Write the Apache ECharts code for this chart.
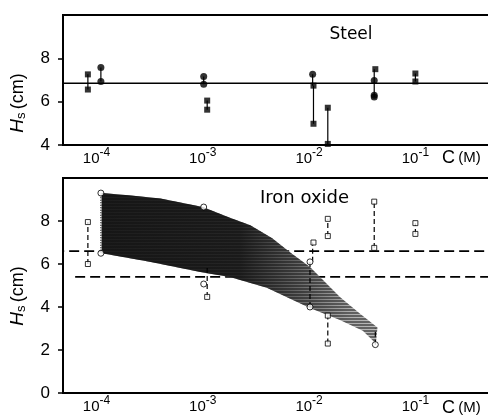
<!DOCTYPE html>
<html>
<head>
    <meta charset="utf-8">
    <title>Hs vs C</title>
    <script type="text/javascript" src="https://cdn.jsdelivr.net/npm/echarts@6/dist/echarts.min.js"></script>
    <style>
        html, body { margin: 0; padding: 0; background: #fff; }
    </style>
</head>
<body>
    <div id="main" style="width: 488px;height:420px;"></div>

    <script type="text/javascript">
        // decades shown on the C axis (log10)
        var decadeTicks = [-4, -3, -2, -1];
        var steelTicks = [4, 6, 8];
        var ironTicks = [0, 2, 4, 6, 8];

        // --- Steel panel ---
        var steelRefH = 6.85;
        var steelSqC = [8.3e-5, 8.3e-5, 1.1e-3, 1.1e-3, 1.1e-2, 1.1e-2, 1.5e-2, 1.5e-2, 0.042, 0.1, 0.1];
        var steelSqH = [7.26, 6.56, 6.05, 5.63, 6.74, 4.98, 5.72, 4.05, 7.5, 7.3, 6.93];
        var steelCiC = [1.1e-4, 1.1e-4, 1.02e-3, 1.02e-3, 1.08e-2, 0.041, 0.041, 0.041];
        var steelCiH = [7.58, 6.93, 7.16, 6.8, 7.26, 6.98, 6.3, 6.22];
        var steelBarC = [8.3e-5, 1.1e-4, 1.02e-3, 1.1e-3, 1.08e-2, 1.1e-2, 1.5e-2, 0.041, 0.1];
        var steelBarLo = [6.56, 6.93, 6.8, 5.63, 6.74, 4.98, 4.05, 6.22, 6.93];
        var steelBarHi = [7.26, 7.58, 7.16, 6.05, 7.26, 6.74, 5.72, 7.5, 7.3];

        // --- Iron oxide panel ---
        var ironRefH = [6.6, 5.4];
        var ironRefStartC = [4.0e-5, 6.3e-5];
        var refEndC = 0.6;
        var ironSqC = [8.3e-5, 8.3e-5, 1.1e-3, 1.1e-2, 1.5e-2, 1.5e-2, 1.5e-2, 1.5e-2, 0.041, 0.041, 0.1, 0.1];
        var ironSqH = [7.95, 6.0, 4.47, 7.0, 8.1, 7.3, 3.6, 2.3, 8.9, 6.75, 7.9, 7.4];
        var ironCiC = [1.1e-4, 1.1e-4, 1.02e-3, 1.02e-3, 1.02e-2, 1.02e-2, 0.042];
        var ironCiH = [9.3, 6.5, 8.65, 5.07, 6.1, 4.0, 2.25];
        var ironBarC = [8.3e-5, 1.1e-3, 1.02e-2, 1.08e-2, 1.5e-2, 1.5e-2, 0.041, 0.1, 0.042];
        var ironBarLo = [6.0, 4.47, 4.0, 6.1, 7.3, 2.3, 6.75, 7.4, 2.25];
        var ironBarHi = [7.95, 5.9, 6.1, 7.0, 8.1, 3.6, 8.9, 7.9, 3.0];
        var ironDotBarC = [1.1e-4];
        var ironDotBarLo = [6.5];
        var ironDotBarHi = [9.3];

        // shaded band (upper and lower edge)
        var bandUpC = [1.12e-4, 2.0e-4, 4.0e-4, 1.0e-3, 1.8e-3, 2.8e-3, 4.5e-3, 6.6e-3, 1.02e-2, 1.95e-2, 3.0e-2, 4.4e-2];
        var bandUpH = [9.3, 9.2, 9.05, 8.65, 8.15, 7.8, 7.2, 6.55, 5.86, 4.47, 3.7, 3.05];
        var bandLoC = [1.12e-4, 3.16e-4, 1.0e-3, 1.8e-3, 4.0e-3, 1.02e-2, 1.95e-2, 3.2e-2, 4.25e-2];
        var bandLoH = [6.5, 6.1, 5.6, 5.4, 4.9, 3.95, 3.4, 2.9, 2.3];

        var lg = function (c) { return Math.log10(c); };
        var pts = function (cs, hs) { return cs.map(function (c, i) { return [lg(c), hs[i]]; }); };
        var bars = function (cs, lo, hi) { return cs.map(function (c, i) { return [lg(c), lo[i], hi[i]]; }); };

        // hatch texture for the band
        var hatch = document.createElement('canvas');
        hatch.width = 4; hatch.height = 3;
        var hctx = hatch.getContext('2d');
        hctx.fillStyle = '#6a6a6a'; hctx.fillRect(0, 0, 4, 3);
        hctx.fillStyle = '#c4c4c4'; hctx.fillRect(0, 2, 4, 1);

        var myChart = echarts.init(document.getElementById('main'));

        var xMin = -4.315, xMax = -0.251;
        var labelFont = 'Liberation Sans';

        function xAxisOf(idx) {
            return {
                type: 'value', gridIndex: idx, min: xMin, max: xMax,
                splitLine: { show: false }, axisLine: { show: false }, axisTick: { show: false },
                axisLabel: {
                    customValues: decadeTicks, margin: 2, color: '#000',
                    fontFamily: labelFont,
                    formatter: function (v) { return '{b|10}{s|' + v + '}'; },
                    rich: {
                        b: { fontSize: 15, fontFamily: labelFont, color: '#000' },
                        s: { fontSize: 12, fontFamily: labelFont, color: '#000', padding: [0, 0, 12, 0] }
                    }
                }
            };
        }
        function yAxisOf(idx, min, ticks) {
            return {
                type: 'value', gridIndex: idx, min: min, max: 10,
                splitLine: { show: false }, axisLine: { show: false },
                axisTick: { show: true, customValues: ticks, length: 5, lineStyle: { color: '#000', width: 1.5 } },
                axisLabel: { customValues: ticks, margin: 13, fontSize: 17, color: '#000', fontFamily: labelFont }
            };
        }

        function errBar(dash) {
            return function (params, api) {
                var a = api.coord([api.value(0), api.value(1)]);
                var b = api.coord([api.value(0), api.value(2)]);
                return {
                    type: 'line',
                    shape: { x1: a[0], y1: a[1], x2: b[0], y2: b[1] },
                    style: { stroke: '#000', lineWidth: 1.2, lineDash: dash }
                };
            };
        }

        function bandItem(params, api) {
            var up = pts(bandUpC, bandUpH).map(function (p) { return api.coord(p); });
            var lo = pts(bandLoC, bandLoH).map(function (p) { return api.coord(p); }).reverse();
            var poly = up.concat(lo);
            return {
                type: 'group',
                children: [
                    { type: 'polygon', shape: { points: poly }, style: { fill: { image: hatch, repeat: 'repeat' }, stroke: null } },
                    {
                        type: 'polygon', shape: { points: poly },
                        style: {
                            fill: new echarts.graphic.LinearGradient(0, 0, 1, 0, [
                                { offset: 0, color: 'rgba(15,15,15,0.92)' },
                                { offset: 0.5, color: 'rgba(15,15,15,0.88)' },
                                { offset: 0.72, color: 'rgba(15,15,15,0.5)' },
                                { offset: 0.9, color: 'rgba(15,15,15,0.12)' },
                                { offset: 1, color: 'rgba(15,15,15,0.05)' }
                            ]),
                            stroke: null
                        }
                    }
                ]
            };
        }

        var option = {
            animation: false,
            grid: [
                { left: 63, top: 15, width: 432, height: 130, outerBoundsMode: 'none', containLabel: false, show: true, borderColor: '#000', borderWidth: 2 },
                { left: 63, top: 178, width: 432, height: 215, outerBoundsMode: 'none', containLabel: false, show: true, borderColor: '#000', borderWidth: 2 }
            ],
            xAxis: [xAxisOf(0), xAxisOf(1)],
            yAxis: [yAxisOf(0, 4, steelTicks), yAxisOf(1, 0, ironTicks)],
            graphic: [
                { type: 'text', x: 351, y: 35, style: { text: 'Steel', font: '17px DejaVu Sans', fill: '#000', textAlign: 'center', textVerticalAlign: 'middle', align: 'center', verticalAlign: 'middle' } },
                { type: 'text', x: 260, y: 198, style: { text: 'Iron oxide', font: '18px DejaVu Sans', fill: '#000', textAlign: 'left', textVerticalAlign: 'middle', align: 'left', verticalAlign: 'middle' } },
                { type: 'text', x: 442, y: 158, style: { text: '{c|C} {m|(M)}', fill: '#000', textVerticalAlign: 'middle', verticalAlign: 'middle', rich: { c: { fontSize: 18, fontFamily: labelFont }, m: { fontSize: 15, fontFamily: labelFont } } } },
                { type: 'text', x: 442, y: 408, style: { text: '{c|C} {m|(M)}', fill: '#000', textVerticalAlign: 'middle', verticalAlign: 'middle', rich: { c: { fontSize: 18, fontFamily: labelFont }, m: { fontSize: 15, fontFamily: labelFont } } } },
                { type: 'text', x: 18, y: 103, rotation: Math.PI / 2, style: { text: '{h|H}{s|s} {c|(cm)}', fill: '#000', textAlign: 'center', textVerticalAlign: 'middle', align: 'center', verticalAlign: 'middle', rich: { h: { fontSize: 19, fontStyle: 'italic', fontFamily: labelFont }, s: { fontSize: 13, fontFamily: labelFont, padding: [6, 0, 0, 0] }, c: { fontSize: 18, fontFamily: labelFont } } } },
                { type: 'text', x: 18, y: 296, rotation: Math.PI / 2, style: { text: '{h|H}{s|s} {c|(cm)}', fill: '#000', textAlign: 'center', textVerticalAlign: 'middle', align: 'center', verticalAlign: 'middle', rich: { h: { fontSize: 19, fontStyle: 'italic', fontFamily: labelFont }, s: { fontSize: 13, fontFamily: labelFont, padding: [6, 0, 0, 0] }, c: { fontSize: 18, fontFamily: labelFont } } } }
            ],
            series: [
                // steel
                {
                    type: 'line', xAxisIndex: 0, yAxisIndex: 0, symbol: 'none', z: 1,
                    data: [[lg(4.0e-5), steelRefH], [lg(refEndC), steelRefH]],
                    lineStyle: { color: '#000', width: 1.5 }
                },
                { type: 'custom', xAxisIndex: 0, yAxisIndex: 0, z: 3, renderItem: errBar(null), encode: { x: 0, y: [1, 2] }, data: bars(steelBarC, steelBarLo, steelBarHi) },
                { type: 'scatter', xAxisIndex: 0, yAxisIndex: 0, z: 4, symbol: 'rect', symbolSize: 6, itemStyle: { color: '#000' }, data: pts(steelSqC, steelSqH) },
                { type: 'scatter', xAxisIndex: 0, yAxisIndex: 0, z: 4, symbol: 'circle', symbolSize: 7, itemStyle: { color: '#000' }, data: pts(steelCiC, steelCiH) },
                // iron oxide
                {
                    type: 'line', xAxisIndex: 1, yAxisIndex: 1, symbol: 'none', z: 1,
                    data: [[lg(ironRefStartC[0]), ironRefH[0]], [lg(refEndC), ironRefH[0]]],
                    lineStyle: { color: '#000', width: 1.6, type: [10, 5] }
                },
                {
                    type: 'line', xAxisIndex: 1, yAxisIndex: 1, symbol: 'none', z: 1,
                    data: [[lg(ironRefStartC[1]), ironRefH[1]], [lg(refEndC), ironRefH[1]]],
                    lineStyle: { color: '#000', width: 1.6, type: [10, 5] }
                },
                { type: 'custom', xAxisIndex: 1, yAxisIndex: 1, z: 2, renderItem: bandItem, data: [[-3, 5]], encode: { x: 0, y: 1 } },
                { type: 'custom', xAxisIndex: 1, yAxisIndex: 1, z: 3, renderItem: errBar([5, 3]), encode: { x: 0, y: [1, 2] }, data: bars(ironBarC, ironBarLo, ironBarHi) },
                { type: 'custom', xAxisIndex: 1, yAxisIndex: 1, z: 3, renderItem: errBar([1, 1.5]), encode: { x: 0, y: [1, 2] }, data: bars(ironDotBarC, ironDotBarLo, ironDotBarHi) },
                { type: 'scatter', xAxisIndex: 1, yAxisIndex: 1, z: 4, symbol: 'rect', symbolSize: 5, itemStyle: { color: '#fff', borderColor: '#000', borderWidth: 1 }, data: pts(ironSqC, ironSqH) },
                { type: 'scatter', xAxisIndex: 1, yAxisIndex: 1, z: 4, symbol: 'circle', symbolSize: 6, itemStyle: { color: '#fff', borderColor: '#000', borderWidth: 1 }, data: pts(ironCiC, ironCiH) }
            ]
        };
        myChart.setOption(option);
    </script>
</body>
</html>
